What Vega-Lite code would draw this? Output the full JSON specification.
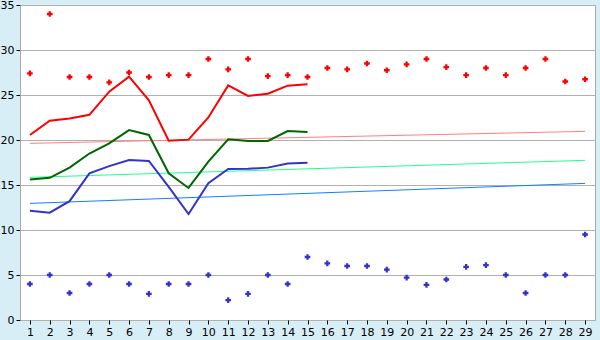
{
  "$schema": "https://vega.github.io/schema/vega-lite/v6.json",
  "width": 575,
  "height": 315,
  "autosize": {"type": "none"},
  "padding": {"left": 20, "top": 5, "right": 5, "bottom": 20},
  "background": "#d8eef6",
  "config": {
    "view": {"fill": "white", "stroke": "#a8a8a8", "strokeWidth": 1},
    "axis": {"labelFont": "DejaVu Sans", "labelFontSize": 11, "labelColor": "#000000", "domainColor": "#a8a8a8", "tickColor": "#000000", "tickSize": 4, "title": null, "labelPadding": 2}
  },
  "datasets": {
    "points": [
      {"day": 1, "max": 27.4, "min": 4},
      {"day": 2, "max": 34, "min": 5},
      {"day": 3, "max": 27, "min": 3},
      {"day": 4, "max": 27, "min": 4},
      {"day": 5, "max": 26.4, "min": 5},
      {"day": 6, "max": 27.5, "min": 4},
      {"day": 7, "max": 27, "min": 2.9},
      {"day": 8, "max": 27.2, "min": 4},
      {"day": 9, "max": 27.2, "min": 4},
      {"day": 10, "max": 29, "min": 5},
      {"day": 11, "max": 27.85, "min": 2.2},
      {"day": 12, "max": 29, "min": 2.9},
      {"day": 13, "max": 27.1, "min": 5},
      {"day": 14, "max": 27.2, "min": 4},
      {"day": 15, "max": 27, "min": 7},
      {"day": 16, "max": 28, "min": 6.3},
      {"day": 17, "max": 27.85, "min": 6},
      {"day": 18, "max": 28.5, "min": 6},
      {"day": 19, "max": 27.75, "min": 5.6},
      {"day": 20, "max": 28.4, "min": 4.7},
      {"day": 21, "max": 29, "min": 3.9},
      {"day": 22, "max": 28.1, "min": 4.5},
      {"day": 23, "max": 27.2, "min": 5.9},
      {"day": 24, "max": 28, "min": 6.1},
      {"day": 25, "max": 27.2, "min": 5},
      {"day": 26, "max": 28, "min": 3},
      {"day": 27, "max": 29, "min": 5},
      {"day": 28, "max": 26.5, "min": 5},
      {"day": 29, "max": 26.75, "min": 9.5}
    ],
    "lines": [
      {"day": 1, "red": 20.55, "green": 15.6, "blue": 12.15},
      {"day": 2, "red": 22.15, "green": 15.8, "blue": 11.93},
      {"day": 3, "red": 22.4, "green": 16.93, "blue": 13.2},
      {"day": 4, "red": 22.8, "green": 18.5, "blue": 16.3},
      {"day": 5, "red": 25.37, "green": 19.63, "blue": 17.1},
      {"day": 6, "red": 27.04, "green": 21.1, "blue": 17.78},
      {"day": 7, "red": 24.4, "green": 20.56, "blue": 17.67},
      {"day": 8, "red": 19.93, "green": 16.3, "blue": 14.8},
      {"day": 9, "red": 20.04, "green": 14.67, "blue": 11.78},
      {"day": 10, "red": 22.5, "green": 17.6, "blue": 15.19},
      {"day": 11, "red": 26.07, "green": 20.07, "blue": 16.78},
      {"day": 12, "red": 24.9, "green": 19.9, "blue": 16.8},
      {"day": 13, "red": 25.15, "green": 19.9, "blue": 16.93},
      {"day": 14, "red": 26.04, "green": 21.0, "blue": 17.4},
      {"day": 15, "red": 26.2, "green": 20.9, "blue": 17.48}
    ],
    "trend": [
      {"day": 1, "tred": 19.63, "tgreen": 15.85, "tblue": 12.96},
      {"day": 29, "tred": 20.96, "tgreen": 17.74, "tblue": 15.18}
    ]
  },
  "layer": [
    {
      "data": {"name": "trend"},
      "mark": {"type": "line", "color": "#ff8080", "strokeWidth": 1},
      "encoding": {
        "x": {"field": "day", "type": "quantitative", "scale": {"domain": [0.5, 29.5], "nice": false, "zero": false},
          "axis": {"values": [1,2,3,4,5,6,7,8,9,10,11,12,13,14,15,16,17,18,19,20,21,22,23,24,25,26,27,28,29], "tickCount": 40, "grid": false, "labelFlush": false, "labelOverlap": false, "labelSeparation": 0, "domain": false, "labelFontSize": 11}},
        "y": {"field": "tred", "type": "quantitative", "scale": {"domain": [0, 35], "nice": false},
          "axis": {"values": [0, 5, 10, 15, 20, 25, 30, 35], "tickCount": 10, "grid": true, "gridColor": "#b0b0b0", "gridOpacity": 1, "labelFlush": false, "labelOverlap": false}}
      }
    },
    {
      "data": {"name": "trend"},
      "mark": {"type": "line", "color": "#20ff90", "strokeWidth": 1},
      "encoding": {
        "x": {"field": "day", "type": "quantitative"},
        "y": {"field": "tgreen", "type": "quantitative"}
      }
    },
    {
      "data": {"name": "trend"},
      "mark": {"type": "line", "color": "#1080ff", "strokeWidth": 1},
      "encoding": {
        "x": {"field": "day", "type": "quantitative"},
        "y": {"field": "tblue", "type": "quantitative"}
      }
    },
    {
      "data": {"name": "lines"},
      "mark": {"type": "line", "color": "#ff0000", "strokeWidth": 2},
      "encoding": {
        "x": {"field": "day", "type": "quantitative"},
        "y": {"field": "red", "type": "quantitative"}
      }
    },
    {
      "data": {"name": "lines"},
      "mark": {"type": "line", "color": "#006600", "strokeWidth": 2},
      "encoding": {
        "x": {"field": "day", "type": "quantitative"},
        "y": {"field": "green", "type": "quantitative"}
      }
    },
    {
      "data": {"name": "lines"},
      "mark": {"type": "line", "color": "#3333cc", "strokeWidth": 2},
      "encoding": {
        "x": {"field": "day", "type": "quantitative"},
        "y": {"field": "blue", "type": "quantitative"}
      }
    },
    {
      "data": {"name": "points"},
      "mark": {"type": "point", "shape": "cross", "filled": true, "color": "#ff0000", "size": 32, "opacity": 1},
      "encoding": {
        "x": {"field": "day", "type": "quantitative"},
        "y": {"field": "max", "type": "quantitative"}
      }
    },
    {
      "data": {"name": "points"},
      "mark": {"type": "point", "shape": "cross", "filled": true, "color": "#3333cc", "size": 32, "opacity": 1},
      "encoding": {
        "x": {"field": "day", "type": "quantitative"},
        "y": {"field": "min", "type": "quantitative"}
      }
    }
  ]
}
